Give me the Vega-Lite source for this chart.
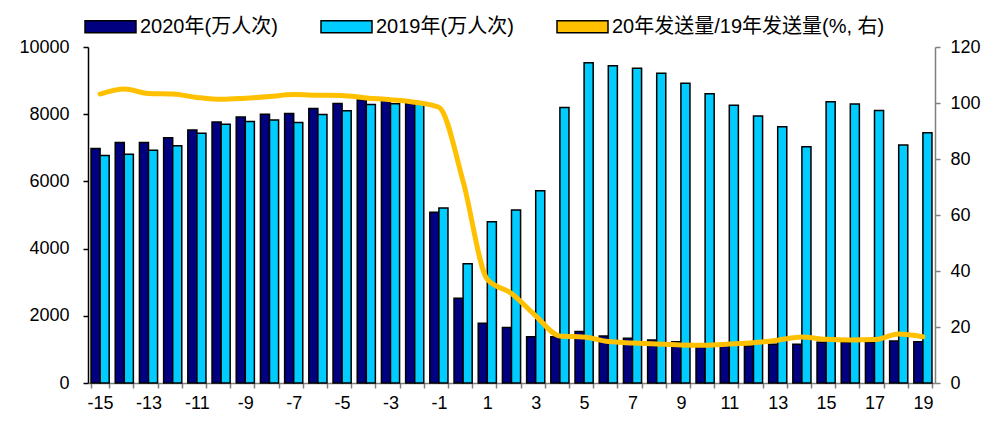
{
  "$schema": "https://vega.github.io/schema/vega-lite/v6.json",
  "width": 847,
  "height": 336,
  "autosize": {"type": "none"},
  "padding": {"left": 88, "top": 47, "right": 56, "bottom": 38},
  "background": "white",
  "config": {
    "view": {"stroke": null},
    "font": "Liberation Sans",
    "axis": {"grid": false, "labelFont": "Liberation Sans", "labelFontSize": 18, "labelColor": "#000", "title": null, "domainWidth": 1.5, "tickWidth": 1.5}
  },
  "datasets": {
    "bars": [
      {"week": -15, "series": "2020年(万人次)", "value": 6980}, {"week": -15, "series": "2019年(万人次)", "value": 6770},
      {"week": -14, "series": "2020年(万人次)", "value": 7160}, {"week": -14, "series": "2019年(万人次)", "value": 6810},
      {"week": -13, "series": "2020年(万人次)", "value": 7160}, {"week": -13, "series": "2019年(万人次)", "value": 6930},
      {"week": -12, "series": "2020年(万人次)", "value": 7300}, {"week": -12, "series": "2019年(万人次)", "value": 7060},
      {"week": -11, "series": "2020年(万人次)", "value": 7530}, {"week": -11, "series": "2019年(万人次)", "value": 7430},
      {"week": -10, "series": "2020年(万人次)", "value": 7770}, {"week": -10, "series": "2019年(万人次)", "value": 7700},
      {"week": -9, "series": "2020年(万人次)", "value": 7920}, {"week": -9, "series": "2019年(万人次)", "value": 7780},
      {"week": -8, "series": "2020年(万人次)", "value": 8000}, {"week": -8, "series": "2019年(万人次)", "value": 7830},
      {"week": -7, "series": "2020年(万人次)", "value": 8020}, {"week": -7, "series": "2019年(万人次)", "value": 7750},
      {"week": -6, "series": "2020年(万人次)", "value": 8170}, {"week": -6, "series": "2019年(万人次)", "value": 7990},
      {"week": -5, "series": "2020年(万人次)", "value": 8320}, {"week": -5, "series": "2019年(万人次)", "value": 8100},
      {"week": -4, "series": "2020年(万人次)", "value": 8420}, {"week": -4, "series": "2019年(万人次)", "value": 8290},
      {"week": -3, "series": "2020年(万人次)", "value": 8400}, {"week": -3, "series": "2019年(万人次)", "value": 8310},
      {"week": -2, "series": "2020年(万人次)", "value": 8320}, {"week": -2, "series": "2019年(万人次)", "value": 8300},
      {"week": -1, "series": "2020年(万人次)", "value": 5080}, {"week": -1, "series": "2019年(万人次)", "value": 5210},
      {"week": 0, "series": "2020年(万人次)", "value": 2520}, {"week": 0, "series": "2019年(万人次)", "value": 3550},
      {"week": 1, "series": "2020年(万人次)", "value": 1780}, {"week": 1, "series": "2019年(万人次)", "value": 4800},
      {"week": 2, "series": "2020年(万人次)", "value": 1650}, {"week": 2, "series": "2019年(万人次)", "value": 5150},
      {"week": 3, "series": "2020年(万人次)", "value": 1380}, {"week": 3, "series": "2019年(万人次)", "value": 5720},
      {"week": 4, "series": "2020年(万人次)", "value": 1380}, {"week": 4, "series": "2019年(万人次)", "value": 8200},
      {"week": 5, "series": "2020年(万人次)", "value": 1530}, {"week": 5, "series": "2019年(万人次)", "value": 9530},
      {"week": 6, "series": "2020年(万人次)", "value": 1400}, {"week": 6, "series": "2019年(万人次)", "value": 9440},
      {"week": 7, "series": "2020年(万人次)", "value": 1330}, {"week": 7, "series": "2019年(万人次)", "value": 9370},
      {"week": 8, "series": "2020年(万人次)", "value": 1280}, {"week": 8, "series": "2019年(万人次)", "value": 9220},
      {"week": 9, "series": "2020年(万人次)", "value": 1230}, {"week": 9, "series": "2019年(万人次)", "value": 8920},
      {"week": 10, "series": "2020年(万人次)", "value": 1160}, {"week": 10, "series": "2019年(万人次)", "value": 8610},
      {"week": 11, "series": "2020年(万人次)", "value": 1150}, {"week": 11, "series": "2019年(万人次)", "value": 8270},
      {"week": 12, "series": "2020年(万人次)", "value": 1100}, {"week": 12, "series": "2019年(万人次)", "value": 7950},
      {"week": 13, "series": "2020年(万人次)", "value": 1150}, {"week": 13, "series": "2019年(万人次)", "value": 7630},
      {"week": 14, "series": "2020年(万人次)", "value": 1150}, {"week": 14, "series": "2019年(万人次)", "value": 7030},
      {"week": 15, "series": "2020年(万人次)", "value": 1210}, {"week": 15, "series": "2019年(万人次)", "value": 8370},
      {"week": 16, "series": "2020年(万人次)", "value": 1210}, {"week": 16, "series": "2019年(万人次)", "value": 8300},
      {"week": 17, "series": "2020年(万人次)", "value": 1210}, {"week": 17, "series": "2019年(万人次)", "value": 8110},
      {"week": 18, "series": "2020年(万人次)", "value": 1250}, {"week": 18, "series": "2019年(万人次)", "value": 7080},
      {"week": 19, "series": "2020年(万人次)", "value": 1230}, {"week": 19, "series": "2019年(万人次)", "value": 7450}
    ],
    "ratio": [
      {"week": -15, "ratio": 103.2}, {"week": -14, "ratio": 105.0}, {"week": -13, "ratio": 103.4},
      {"week": -12, "ratio": 103.2}, {"week": -11, "ratio": 102.0}, {"week": -10, "ratio": 101.3},
      {"week": -9, "ratio": 101.7}, {"week": -8, "ratio": 102.3}, {"week": -7, "ratio": 103.0},
      {"week": -6, "ratio": 102.8}, {"week": -5, "ratio": 102.7}, {"week": -4, "ratio": 101.8},
      {"week": -3, "ratio": 101.2}, {"week": -2, "ratio": 100.3}, {"week": -1, "ratio": 98.5},
      {"week": 0, "ratio": 72.0}, {"week": 1, "ratio": 37.0}, {"week": 2, "ratio": 32.0},
      {"week": 3, "ratio": 24.0}, {"week": 4, "ratio": 16.8}, {"week": 5, "ratio": 16.4},
      {"week": 6, "ratio": 14.8}, {"week": 7, "ratio": 14.3}, {"week": 8, "ratio": 13.9},
      {"week": 9, "ratio": 13.6}, {"week": 10, "ratio": 13.5}, {"week": 11, "ratio": 13.9},
      {"week": 12, "ratio": 14.4}, {"week": 13, "ratio": 15.3}, {"week": 14, "ratio": 16.4},
      {"week": 15, "ratio": 15.6}, {"week": 16, "ratio": 15.4}, {"week": 17, "ratio": 15.5},
      {"week": 18, "ratio": 17.5}, {"week": 19, "ratio": 16.5}
    ]
  },
  "encoding": {
    "x": {
      "field": "week", "type": "ordinal", "sort": "ascending",
      "scale": {"paddingInner": 0.25, "paddingOuter": 0.125},
      "axis": {
        "labelAngle": 0, "tickBand": "extent", "tickSize": 5, "labelPadding": 6,
        "domainColor": "#808080", "tickColor": "#808080",
        "labelExpr": "datum.value % 2 != 0 ? datum.label : ''"
      }
    }
  },
  "layer": [
    {
      "data": {"name": "bars"},
      "mark": {"type": "bar", "stroke": "#000", "strokeWidth": 1.5},
      "encoding": {
        "xOffset": {"field": "series", "type": "nominal", "sort": ["2020年(万人次)", "2019年(万人次)"], "scale": {"paddingInner": 0}},
        "y": {
          "field": "value", "type": "quantitative",
          "scale": {"domain": [0, 10000]},
          "axis": {"values": [0, 2000, 4000, 6000, 8000, 10000], "format": "d", "tickSize": 5, "labelPadding": 14, "domainColor": "#000", "tickColor": "#000", "orient": "left"}
        },
        "color": {
          "field": "series", "type": "nominal",
          "scale": {
            "domain": ["2020年(万人次)", "2019年(万人次)", "20年发送量/19年发送量(%, 右)"],
            "range": ["#000080", "#00CCFF", "#FFC000"]
          },
          "legend": {
            "title": null, "orient": "none", "legendX": -4, "legendY": -47,
            "direction": "horizontal", "columns": 3, "columnPadding": 40,
            "labelFont": "Liberation Sans, Noto Sans CJK SC", "labelFontSize": 20, "labelColor": "#000",
            "labelLimit": 400, "labelOffset": 3,
            "symbolSize": 2600, "symbolType": "M-1,-0.24H1V0.24H-1Z",
            "encode": {
              "symbols": {
                "update": {
                  "shape": {"signal": "datum.index == 2 ? 'M-1,0H1' : 'M-1,-0.24H1V0.24H-1Z'"},
                  "stroke": {"signal": "datum.index == 2 ? '#FFC000' : '#000'"},
                  "strokeWidth": {"signal": "datum.index == 2 ? 6 : 1.5"}
                }
              }
            }
          }
        }
      }
    },
    {
      "data": {"name": "ratio"},
      "mark": {"type": "line", "strokeWidth": 5, "interpolate": "monotone", "strokeCap": "round", "color": "#FFC000"},
      "encoding": {
        "y": {
          "field": "ratio", "type": "quantitative",
          "scale": {"domain": [0, 120]},
          "axis": {"orient": "right", "values": [0, 20, 40, 60, 80, 100, 120], "tickSize": 5, "labelPadding": 10, "domainColor": "#808080", "tickColor": "#808080"}
        }
      }
    }
  ],
  "resolve": {"scale": {"y": "independent"}}
}
